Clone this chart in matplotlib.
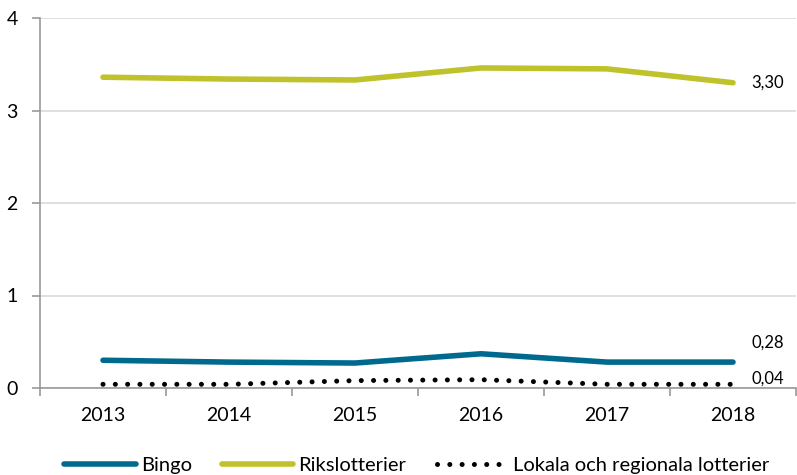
import numpy as np
import matplotlib.pyplot as plt

years = ["2013", "2014", "2015", "2016", "2017", "2018"]
bingo = [0.30, 0.28, 0.27, 0.37, 0.28, 0.28]
riks = [3.36, 3.34, 3.33, 3.46, 3.45, 3.30]
lokala = [0.04, 0.04, 0.08, 0.09, 0.04, 0.04]

plt.rcParams['font.family'] = ['Lato', 'DejaVu Sans']

fig = plt.figure(figsize=(7.97, 4.75), dpi=100)
ax = fig.add_axes([40 / 797, 87 / 475, 756 / 797, 370 / 475])

x = np.arange(len(years))
ax.plot(x, bingo, color='#006A8E', lw=4.0, solid_capstyle='round', label='Bingo')
ax.plot(x, riks, color='#BFC22A', lw=4.0, solid_capstyle='round', label='Rikslotterier')
ax.plot(x, lokala, color='black', lw=3.6, linestyle=(0, (0.01, 2.45)),
        dash_capstyle='round', label='Lokala och regionala lotterier')

ax.set_xlim(-0.5, 5.5)
ax.set_ylim(0, 4)
ax.set_yticks([0, 1, 2, 3, 4])
ax.set_xticks(x)
ax.set_xticklabels(years)
ax.set_xticks(np.arange(-0.5, 6, 1), minor=True)
ax.tick_params(axis='x', which='major', length=0, pad=14, labelsize=14)
ax.tick_params(axis='x', which='minor', length=6, color='#999999', width=1.2, direction='out')
ax.tick_params(axis='y', length=6, color='#999999', width=1.2, labelsize=14, pad=10)
ax.grid(axis='y', color='#D9D9D9', lw=1.2)
ax.set_axisbelow(True)
for s in ['top', 'right']:
    ax.spines[s].set_visible(False)
for s in ['left', 'bottom']:
    ax.spines[s].set_color('#999999')
    ax.spines[s].set_linewidth(1.2)

ax.annotate('3,30', (x[-1], riks[-1]), xytext=(13, 0), textcoords='offset points',
            va='center', fontsize=12)
ax.annotate('0,28', (x[-1], bingo[-1]), xytext=(13, 14), textcoords='offset points',
            va='center', fontsize=12)
ax.annotate('0,04', (x[-1], lokala[-1]), xytext=(13, 4), textcoords='offset points',
            va='center', fontsize=12)

fig.legend(loc='lower center', bbox_to_anchor=(0.523, -0.036), ncol=3, frameon=False,
           fontsize=14.5, handlelength=3.55, handletextpad=0.25, columnspacing=1.5)

fig.savefig('out.png', dpi=100)
